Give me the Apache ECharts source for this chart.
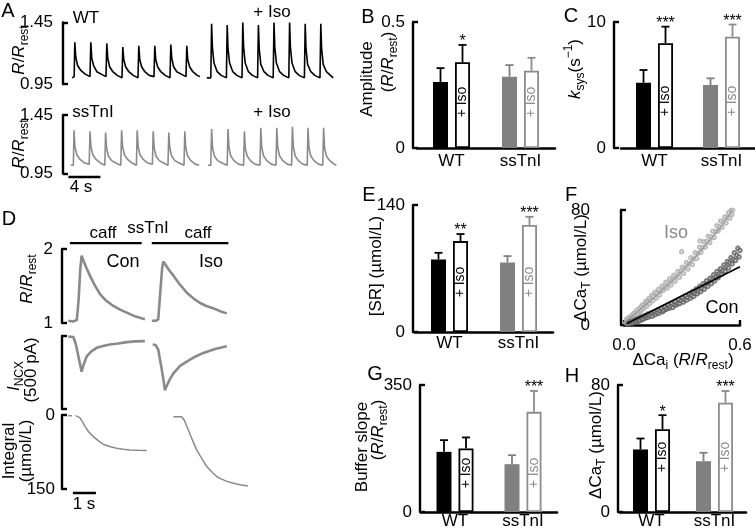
<!DOCTYPE html>
<html><head><meta charset="utf-8">
<script src="https://cdn.jsdelivr.net/npm/echarts@6/dist/echarts.min.js"></script>
<style>html,body{margin:0;padding:0;background:#fff}#c{width:755px;height:529px}</style>
</head><body><div id="c"></div>
<script>
// ================= DATA =================
// Panel A: Ca transients, [time s, R/Rrest]
const aTicks = [0.95, 1.45];
const wtCon = [[0.25,1.00],[0.52,1.01],[0.6,1.29],[0.72,1.17],[0.95,1.10],[1.35,1.06],[1.9,1.03],[2.5,1.01],
[2.6,1.29],[2.72,1.16],[2.95,1.10],[3.35,1.05],[3.9,1.03],[4.5,1.01],
[4.6,1.28],[4.72,1.16],[4.95,1.09],[5.35,1.05],[5.9,1.02],[6.5,1.00],
[6.6,1.25],[6.72,1.15],[6.95,1.09],[7.35,1.05],[7.9,1.02],[8.5,1.00],
[8.6,1.26],[8.72,1.15],[8.95,1.09],[9.35,1.05],[9.9,1.02],[10.5,1.01],
[10.6,1.26],[10.72,1.15],[10.95,1.09],[11.35,1.05],[11.9,1.02],[12.5,1.00],
[12.6,1.27],[12.72,1.16],[12.95,1.09],[13.35,1.05],[13.9,1.03],[14.5,1.01],
[14.6,1.26],[14.72,1.15],[14.95,1.09],[15.35,1.05],[15.9,1.02],[16.25,1.01]];
const wtIso = [[17.1,1.00],[17.6,1.00],[17.7,1.44],[17.8,1.25],[18.0,1.12],[18.4,1.05],[18.9,1.02],[19.55,1.00],
[19.65,1.43],[19.75,1.24],[19.95,1.12],[20.35,1.05],[20.85,1.02],[21.5,1.00],
[21.6,1.45],[21.7,1.25],[21.9,1.12],[22.3,1.05],[22.8,1.02],[23.45,1.00],
[23.55,1.43],[23.65,1.24],[23.85,1.11],[24.25,1.05],[24.75,1.02],[25.4,1.00],
[25.5,1.45],[25.6,1.25],[25.8,1.12],[26.2,1.05],[26.7,1.02],[27.35,1.00],
[27.45,1.45],[27.55,1.25],[27.75,1.12],[28.15,1.05],[28.65,1.02],[29.3,1.00],
[29.4,1.44],[29.5,1.24],[29.7,1.11],[30.1,1.05],[30.6,1.02],[31.25,1.00],
[31.35,1.44],[31.45,1.24],[31.65,1.11],[32.05,1.05],[32.55,1.02],[32.9,1.00]];
const ssCon = [[0.09,1.02],[0.42,1.02],[0.5,1.32],[0.62,1.18],[0.85,1.11],[1.25,1.07],[1.8,1.04],[2.4,1.03],
[2.5,1.31],[2.62,1.18],[2.85,1.11],[3.25,1.07],[3.8,1.04],[4.35,1.02],
[4.45,1.30],[4.57,1.17],[4.8,1.10],[5.2,1.06],[5.75,1.04],[6.35,1.02],
[6.45,1.32],[6.57,1.18],[6.8,1.11],[7.2,1.07],[7.75,1.04],[8.3,1.02],
[8.4,1.32],[8.52,1.18],[8.75,1.11],[9.15,1.07],[9.7,1.04],[10.3,1.03],
[10.4,1.31],[10.52,1.17],[10.75,1.10],[11.15,1.06],[11.7,1.04],[12.25,1.02],
[12.35,1.30],[12.47,1.17],[12.7,1.10],[13.1,1.06],[13.65,1.04],[14.25,1.02],
[14.35,1.31],[14.47,1.17],[14.7,1.10],[15.1,1.06],[15.65,1.03],[16.16,1.02]];
const ssIso = [[17.25,1.02],[17.6,1.02],[17.7,1.33],[17.82,1.17],[18.05,1.10],[18.45,1.06],[19.0,1.04],[19.65,1.02],
[19.75,1.33],[19.87,1.17],[20.1,1.10],[20.5,1.06],[21.05,1.03],[21.7,1.02],
[21.8,1.31],[21.92,1.16],[22.15,1.10],[22.55,1.06],[23.1,1.03],[23.75,1.02],
[23.85,1.34],[23.97,1.17],[24.2,1.10],[24.6,1.06],[25.15,1.03],[25.75,1.02],
[25.85,1.34],[25.97,1.17],[26.2,1.10],[26.6,1.06],[27.15,1.03],[27.7,1.02],
[27.8,1.35],[27.92,1.18],[28.15,1.10],[28.55,1.06],[29.1,1.03],[29.65,1.02],
[29.75,1.34],[29.87,1.17],[30.1,1.10],[30.5,1.06],[31.05,1.03],[31.6,1.02],
[31.7,1.34],[31.82,1.17],[32.05,1.10],[32.45,1.06],[33.0,1.03],[33.3,1.02]];
const aScaleBar = [[-0.2,0.92],[3.8,0.92]];   // 4 s

// Panel D: caffeine responses, [time s, value]
const dRatioTicks = [1, 2];
const dIntTicks = [0, 150];
const dRatioCon = [[0.1,1.03],[0.3,1.02],[0.47,1.04],[0.55,1.32],[0.62,1.72],[0.68,1.91],[0.76,1.84],[0.88,1.75],[1.04,1.64],[1.25,1.51],[1.48,1.39],[1.75,1.30],[2.06,1.23],[2.35,1.18],[2.64,1.14],[3.0,1.09],[3.43,1.05]];
const dRatioIso = [[3.73,1.03],[3.9,1.03],[4.01,1.05],[4.1,1.42],[4.18,1.74],[4.23,1.83],[4.32,1.79],[4.47,1.72],[4.67,1.64],[4.95,1.52],[5.25,1.41],[5.55,1.33],[5.83,1.27],[6.1,1.23],[6.4,1.20],[6.7,1.16],[6.99,1.13]];
const dIncxCon = [[0.1,-4],[0.32,-7],[0.43,-58],[0.57,-163],[0.68,-244],[0.76,-198],[0.9,-140],[1.09,-107],[1.33,-81],[1.61,-68],[1.91,-58],[2.26,-51],[2.64,-42],[3.0,-37],[3.43,-35]];
const dIncxIso = [[3.77,-58],[3.9,-62],[4.01,-93],[4.13,-198],[4.24,-302],[4.3,-372],[4.39,-337],[4.52,-295],[4.67,-256],[4.96,-205],[5.25,-175],[5.61,-142],[5.97,-116],[6.48,-89],[6.99,-70]];
const dIntConLead = [[0.09,1.5],[0.42,1.5]];
const dIntCon = [[0.45,1.8],[0.61,6],[0.72,14],[0.83,23.6],[1.0,35],[1.19,43.8],[1.4,52],[1.62,59.2],[1.9,64],[2.2,67.2],[2.5,69.5],[2.78,70.7],[3.15,71.5],[3.51,72]];
const dIntIso = [[4.67,3.4],[5.03,3.6],[5.15,11],[5.32,30.3],[5.5,51],[5.68,70.7],[5.9,88],[6.12,104.4],[6.33,115],[6.55,124.6],[6.77,130],[6.99,134.6],[7.28,138.5],[7.57,141.3],[7.91,144]];
const caffBars = [[[0.17,2.08],[3.29,2.08]], [[3.73,2.08],[7.06,2.08]]];
const dScaleBar = [[0.3,158],[1.3,158]];   // 1 s

// Bar panels
const groups = ['WT', 'ssTnI'];
const ampCon = [0.262, 0.283], ampConErr = [0.055, 0.046];
const ampIso = [0.340, 0.307], ampIsoErr = [0.069, 0.051], ampStars = ['*', ''];
const kCon = [5.18, 5.0], kConErr = [1.01, 0.53];
const kIso = [8.31, 8.83], kIsoErr = [1.32, 0.97], kStars = ['***', '***'];
const srCon = [80, 76.7], srConErr = [7.3, 7.0];
const srIso = [100.2, 118], srIsoErr = [7.8, 9.0], srStars = ['**', '***'];
const bsCon = [165.8, 131.8], bsConErr = [32.2, 24.8];
const bsIso = [175, 276], bsIsoErr = [30.5, 57.6], bsStars = ['', '***'];
const caCon = [39.4, 32.0], caConErr = [6.9, 5.3];
const caIso = [52.2, 68.8], caIsoErr = [8.8, 7.4], caStars = ['*', '***'];

// Panel F: buffer curves, [dCai, dCaT]
const fIso = [[0.008,1.5],[0.012,3.8],[0.018,2.4],[0.022,5.1],[0.027,1.9],[0.031,4.4],[0.036,6.2],[0.04,3.5],[0.044,5.8],[0.049,7.9],[0.053,4.9],[0.058,8.6],[0.062,6.7],[0.066,10.2],[0.071,8.1],[0.075,6.9],[0.079,11.3],[0.084,9.6],[0.088,12.8],[0.093,10.4],[0.097,14.1],[0.102,11.7],[0.107,13.5],[0.112,16.2],[0.116,12.9],[0.121,15.6],[0.127,18.3],[0.132,14.8],[0.138,17.4],[0.143,20.6],[0.149,16.9],[0.154,19.8],[0.16,22.7],[0.166,18.7],[0.171,21.9],[0.178,24.8],[0.184,20.9],[0.19,23.6],[0.197,27.2],[0.203,24.1],[0.21,26.3],[0.216,29.8],[0.223,25.7],[0.229,28.9],[0.236,32.1],[0.243,27.8],[0.25,31.2],[0.257,34.6],[0.264,30.4],[0.271,33.5],[0.279,37.3],[0.286,33.1],[0.293,36.8],[0.298,51.0],[0.301,40.2],[0.308,35.9],[0.316,39.6],[0.323,43.4],[0.331,38.9],[0.338,42.7],[0.346,46.8],[0.353,42.1],[0.361,45.9],[0.368,50.3],[0.376,46.2],[0.383,49.8],[0.391,54.1],[0.393,58.5],[0.398,50.6],[0.406,53.7],[0.414,57.9],[0.421,54.2],[0.429,58.1],[0.436,61.8],[0.444,57.4],[0.451,61.2],[0.459,65.3],[0.466,60.8],[0.474,64.9],[0.48,69.1],[0.487,65.6],[0.494,68.4],[0.5,72.3],[0.507,67.9],[0.514,71.6],[0.521,75.2],[0.528,70.9],[0.534,74.7],[0.541,78.1],[0.547,74.3],[0.553,79.6],[0.558,76.8],[0.562,79.9]];
const fCon = [[0.018,0.4],[0.024,1.9],[0.029,0.9],[0.035,2.6],[0.041,1.2],[0.047,1.6],[0.053,3.4],[0.058,1.9],[0.064,2.8],[0.07,4.4],[0.076,2.6],[0.081,3.3],[0.087,5.6],[0.093,3.7],[0.099,4.2],[0.105,6.5],[0.111,4.9],[0.117,5.3],[0.122,7.6],[0.128,5.5],[0.134,6.6],[0.14,8.4],[0.146,6.1],[0.152,7.9],[0.158,9.3],[0.163,7.2],[0.169,8.6],[0.175,10.4],[0.181,8.1],[0.187,9.7],[0.193,11.8],[0.199,9.2],[0.205,10.1],[0.211,12.6],[0.217,10.8],[0.223,11.5],[0.229,13.9],[0.235,11.6],[0.241,12.9],[0.247,15.1],[0.253,12.2],[0.259,14.2],[0.265,16.4],[0.271,13.8],[0.277,15.0],[0.283,17.9],[0.289,14.9],[0.295,16.8],[0.301,19.1],[0.307,15.9],[0.313,17.6],[0.319,20.5],[0.325,17.3],[0.331,19.2],[0.337,21.8],[0.343,18.6],[0.349,20.4],[0.355,23.3],[0.361,19.9],[0.367,22.1],[0.373,25.0],[0.379,21.7],[0.385,23.6],[0.391,26.9],[0.397,23.2],[0.403,25.5],[0.409,28.7],[0.415,24.9],[0.421,27.6],[0.427,30.8],[0.433,26.8],[0.439,29.5],[0.445,32.6],[0.451,28.7],[0.457,31.4],[0.463,34.9],[0.469,30.6],[0.475,33.5],[0.481,37.2],[0.487,32.9],[0.493,35.6],[0.499,39.1],[0.505,35.2],[0.511,38.0],[0.517,41.8],[0.523,37.4],[0.529,40.3],[0.535,44.2],[0.541,39.6],[0.547,43.1],[0.553,46.9],[0.559,42.5],[0.565,45.8],[0.571,50.3],[0.577,44.9],[0.583,48.6],[0.589,53.4],[0.595,47.3],[0.6,51.8]];
const fConFit = [[0.015,1.0],[0.6,40.5]];
const fIsoFit = [[0.0,1.5],[0.1,12.5],[0.2,24.5],[0.3,37.5],[0.4,52],[0.5,68],[0.56,80]];
const fXTicks = [0, 0.6], fYTicks = [0, 80];

// ================= STYLE / BUILD =================
const FONT = "'Liberation Sans', Arial, Helvetica, sans-serif";
const INK = '#000', GREY = '#808080', GREY_LINE = '#8c8c8c', TRACE_GREY = '#8a8a8a';
const FILL = [INK, GREY], EDGE = [INK, GREY_LINE];
const BAR_W = 15, BAR_GAP_PX = 7, BAR_OFF = (BAR_W + BAR_GAP_PX) / 2;
const RICH = {
  i: {fontStyle: 'italic', fontSize: 17, fontFamily: FONT},
  sub: {fontSize: 12, fontFamily: FONT, padding: [12, 0, 0, 0]},
  sup: {fontSize: 12, fontFamily: FONT, padding: [0, 0, 12, 0]}
};

const option = {animation: false, backgroundColor: '#fff', textStyle: {fontFamily: FONT},
  grid: [], xAxis: [], yAxis: [], series: [], graphic: []};

function addGrid(r) { option.grid.push(Object.assign({outerBoundsMode: 'none', containLabel: false}, r)); return option.grid.length - 1; }
function yBracket(gi, min, max, o) {
  return {gridIndex: gi, type: 'value', min, max, inverse: !!o.inverse, offset: o.offset || 0,
    axisLine: {show: true, onZero: false, lineStyle: {color: INK, width: 2.4}},
    axisTick: {show: true, inside: true, length: 5, customValues: [min, max], lineStyle: {color: INK, width: 2.4}},
    axisLabel: {show: !!o.labels, customValues: o.labels || [], formatter: o.fmt || (v => String(v)),
      fontSize: 17, color: INK, fontFamily: FONT, margin: o.margin || 8},
    splitLine: {show: false}};
}
function xHidden(gi, min, max) { return {gridIndex: gi, type: 'value', min, max, show: false, splitLine: {show: false}}; }
function line(gi, data, color, width, extra) {
  return Object.assign({type: 'line', xAxisIndex: gi, yAxisIndex: gi, data, showSymbol: false, symbol: 'none',
    silent: true, lineStyle: {color, width}, z: 3}, extra || {});
}

// ---- Panel A ----
[[22.5, 61.5, wtCon, wtIso, INK], [115, 58.5, ssCon, ssIso, TRACE_GREY]].forEach(([top, h, c, s, col], k) => {
  const gi = addGrid({left: 70, top, width: 268, height: h});
  option.xAxis.push(xHidden(gi, 0, 33.5));
  option.yAxis.push(yBracket(gi, aTicks[0], aTicks[1], {offset: 7, labels: aTicks, fmt: v => v.toFixed(2), margin: 10}));
  option.series.push(line(gi, c, col, 1.6), line(gi, s, col, 1.6));
  if (k === 1) option.series.push(line(gi, aScaleBar, INK, 2.6, {clip: false}));
});

// ---- Panel D ----
(function () {
  const g1 = addGrid({left: 66, top: 249, width: 184, height: 74});
  option.xAxis.push(xHidden(g1, 0, 8));
  option.yAxis.push(yBracket(g1, dRatioTicks[0], dRatioTicks[1], {offset: 4, labels: dRatioTicks, margin: 9}));
  option.series.push(line(g1, dRatioCon, TRACE_GREY, 2.6), line(g1, dRatioIso, TRACE_GREY, 2.6));
  caffBars.forEach(b => option.series.push(line(g1, b, INK, 2.4, {clip: false})));
  const g2 = addGrid({left: 66, top: 336, width: 184, height: 73});
  option.xAxis.push(xHidden(g2, 0, 8));
  option.yAxis.push(yBracket(g2, -500, 0, {offset: 4}));
  option.series.push(line(g2, dIncxCon, TRACE_GREY, 2.6), line(g2, dIncxIso, TRACE_GREY, 2.6));
  const g3 = addGrid({left: 66, top: 415, width: 184, height: 74});
  option.xAxis.push(xHidden(g3, 0, 8));
  option.yAxis.push(yBracket(g3, dIntTicks[0], dIntTicks[1], {offset: 4, labels: dIntTicks, inverse: true, margin: 7}));
  option.series.push(line(g3, dIntConLead, TRACE_GREY, 1.5, {lineStyle: {color: TRACE_GREY, width: 1.5, type: [4, 3]}}),
    line(g3, dIntCon, TRACE_GREY, 1.5), line(g3, dIntIso, TRACE_GREY, 1.5),
    line(g3, dScaleBar, INK, 2.6, {clip: false}));
})();

// ---- Bar panels ----
function errSeries(gi, means, errs, stars, side, colors, lift) {
  return {type: 'custom', xAxisIndex: gi, yAxisIndex: gi, z: 6, silent: true, clip: false,
    data: means.map((m, i) => [i, m, errs[i]]),
    renderItem(params, api) {
      const i = api.value(0), m = api.value(1), e = api.value(2);
      const base = api.coord([i, 0]);
      const x = base[0] + side * BAR_OFF;
      const yTop = api.coord([i, m])[1], yErr = api.coord([i, m + e])[1];
      const col = colors[i];
      const ch = [
        {type: 'line', shape: {x1: x, y1: yTop, x2: x, y2: yErr}, style: {stroke: col, lineWidth: 1.8}},
        {type: 'line', shape: {x1: x - 4, y1: yErr, x2: x + 4, y2: yErr}, style: {stroke: col, lineWidth: 1.8}}];
      const st = stars[params.dataIndex];
      if (st) ch.push({type: 'text', x, y: yErr - 3, style: {text: st, fill: INK, fontSize: 16, fontFamily: FONT, align: 'center', verticalAlign: 'middle'}});
      if (lift) ch.push({type: 'text', x, y: base[1] - lift, rotation: Math.PI / 2,
        style: {text: '+ Iso', fill: col, fontSize: 14, fontFamily: FONT, align: 'center', verticalAlign: 'middle'}});
      return {type: 'group', children: ch};
    }};
}
function barPanel(rect, yMax, yOff, con, conErr, iso, isoErr, stars, lift, xMargin) {
  const gi = addGrid(rect);
  option.xAxis.push({gridIndex: gi, type: 'category', data: groups,
    axisLine: {show: true, onZero: false, lineStyle: {color: INK, width: 2.6}}, axisTick: {show: false},
    axisLabel: {fontSize: 17, color: INK, margin: xMargin, fontFamily: FONT}, splitLine: {show: false}});
  option.yAxis.push(yBracket(gi, 0, yMax, {offset: yOff, labels: [0, yMax]}));
  const gap = (BAR_GAP_PX / BAR_W * 100) + '%';
  option.series.push({type: 'bar', xAxisIndex: gi, yAxisIndex: gi, barWidth: BAR_W, barGap: gap, silent: true,
    data: con.map((v, i) => ({value: v, itemStyle: {color: FILL[i]}}))});
  option.series.push({type: 'bar', xAxisIndex: gi, yAxisIndex: gi, barWidth: BAR_W, barGap: gap, silent: true,
    data: iso.map((v, i) => ({value: v, itemStyle: {color: '#fff', borderColor: EDGE[i], borderWidth: 1.8}}))});
  option.series.push(errSeries(gi, con, conErr, [], -1, FILL, 0));
  option.series.push(errSeries(gi, iso, isoErr, stars, 1, EDGE, lift));
}
barPanel({left: 417, top: 22, width: 138, height: 126}, 0.5, 4, ampCon, ampConErr, ampIso, ampIsoErr, ampStars, 46, 5);
barPanel({left: 621, top: 22, width: 134, height: 126}, 10, 7, kCon, kConErr, kIso, kIsoErr, kStars, 47, 5);
barPanel({left: 415, top: 205, width: 138, height: 127}, 140, 2, srCon, srConErr, srIso, srIsoErr, srStars, 50, 3);
barPanel({left: 421, top: 385, width: 136, height: 127}, 350, 1, bsCon, bsConErr, bsIso, bsIsoErr, bsStars, 39, 1);
barPanel({left: 620, top: 385, width: 126, height: 127}, 80, 2, caCon, caConErr, caIso, caIsoErr, caStars, 55, 1);

// ---- Panel F ----
(function () {
  const gi = addGrid({left: 624, top: 210, width: 116, height: 115});
  option.xAxis.push({gridIndex: gi, type: 'value', min: fXTicks[0], max: fXTicks[1],
    axisLine: {show: true, onZero: false, lineStyle: {color: INK, width: 2.6}},
    axisTick: {show: true, inside: true, length: 5, customValues: fXTicks, lineStyle: {color: INK, width: 2.4}},
    axisLabel: {customValues: fXTicks, formatter: v => v.toFixed(1), fontSize: 17, color: INK, fontFamily: FONT, margin: 12},
    splitLine: {show: false}});
  option.yAxis.push(yBracket(gi, fYTicks[0], fYTicks[1], {offset: 3, labels: fYTicks, margin: 31}));
  option.series.push({type: 'scatter', xAxisIndex: gi, yAxisIndex: gi, data: fIso, symbol: 'emptyCircle', symbolSize: 3.5,
    silent: true, itemStyle: {color: '#ababab', borderWidth: 0.8}, z: 2});
  option.series.push({type: 'scatter', xAxisIndex: gi, yAxisIndex: gi, data: fCon, symbol: 'emptyCircle', symbolSize: 3.5,
    silent: true, itemStyle: {color: '#5e5e5e', borderWidth: 0.8}, z: 2});
  option.series.push(line(gi, fIsoFit, '#9a9a9a', 1.2), line(gi, fConFit, INK, 1.6));
})();

// ---- Text annotations ----
function T(x, y, text, o) {
  o = o || {};
  return {type: 'text', x, y, rotation: o.rot || 0, silent: true, z: 100,
    style: {text, fill: o.color || INK, fontSize: o.size || 17, fontFamily: FONT,
      align: 'center', verticalAlign: 'middle', rich: RICH}};
}
const R90 = {rot: Math.PI / 2};
const RR = '{i|R}/{i|R}{sub|rest}';
option.graphic = [
  T(8, 11, 'A', {size: 20}), T(368, 17, 'B', {size: 20}), T(571, 16, 'C', {size: 20}), T(9, 219, 'D', {size: 20}),
  T(369, 195, 'E', {size: 20}), T(571, 195, 'F', {size: 20}), T(375, 374, 'G', {size: 20}), T(572, 376, 'H', {size: 20}),
  T(86, 18, 'WT'), T(272, 12, '+ Iso'), T(93, 112, 'ssTnI'), T(272, 112, '+ Iso'), T(81, 187, '4 s'),
  T(19, 50, RR, R90), T(19, 144, RR, R90),
  T(103, 233, 'caff'), T(198, 233, 'caff'), T(148, 228, 'ssTnI'), T(123, 262, 'Con', {size: 18}), T(211, 262, 'Iso', {size: 18}),
  T(84, 504, '1 s'),
  T(27, 279, RR, R90), T(14, 376, '{i|I}{sub|NCX}', R90), T(31, 370, '(500 pA)', R90),
  T(9, 451, 'Integral', R90), T(26, 451, '(\u00b5mol/L)', R90),
  T(367, 79, 'Amplitude', R90), T(388, 62, '(' + RR + ')', R90),
  T(575, 69, '{i|k}{sub|sys}(s{sup|\u22121})', R90),
  T(376, 266, '[SR] (\u00b5mol/L)', R90),
  T(581, 268, '\u0394Ca{sub|T} (\u00b5mol/L)', R90),
  T(683, 360, '\u0394Ca{sub|i} (' + RR + ')'),
  T(676, 233, 'Iso', {size: 18, color: '#8a8a8a'}), T(722, 308, 'Con', {size: 18}),
  T(362, 447, 'Buffer slope', R90), T(378, 430, '(' + RR + ')', R90),
  T(596, 445, '\u0394Ca{sub|T} (\u00b5mol/L)', R90)
];

const chart = echarts.init(document.getElementById('c'), null, {renderer: 'canvas', width: 755, height: 529});
chart.setOption(option);
</script></body></html>
